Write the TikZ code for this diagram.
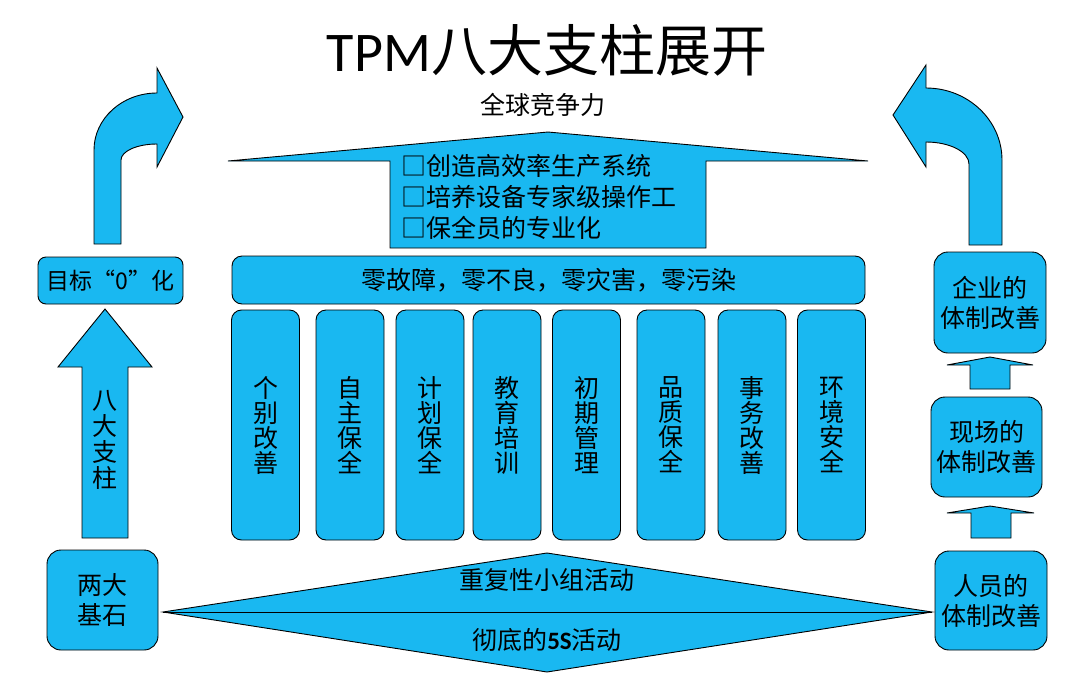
\documentclass[tikz,border=0pt]{standalone}
\usepackage{fontspec}
\setmainfont{Noto Sans CJK SC}
\newfontfamily\latinfont{Carlito}
\definecolor{tpmblue}{RGB}{25,184,241}

\begin{document}
\begin{tikzpicture}[x=1pt, y=-1pt, line width=0.9pt,
    blk/.style={fill=tpmblue, draw=black},
    rbox/.style={blk, rounded corners=14pt, inner sep=0pt, align=center,
        font=\fontsize{25}{30}\selectfont},
    pillar/.style={rbox, rounded corners=10pt, minimum width=68pt, minimum height=230pt,
        font=\fontsize{25}{25}\selectfont},
    lbl/.style={inner sep=0pt, align=center, font=\fontsize{25}{30}\selectfont}]
    \useasboundingbox (0,0) rectangle (1072,689);

    % 标题
    \node[inner sep=0pt, font=\fontsize{56}{56}\selectfont] (title) at (547,50) {{\latinfont TPM}八大支柱展开};
    \node[lbl] (world) at (543,105) {全球竞争力};

    % 顶部宽箭头
    \draw[blk] (228,161) -- (548,132) -- (868,161) -- (706,161) -- (706,248)
        -- (390,248) -- (390,161) -- cycle;
    \node[lbl, align=left, anchor=west, font=\fontsize{25}{31}\selectfont] (goals) at (401,197)
        {□创造高效率生产系统\\□培养设备专家级操作工\\□保全员的专业化};

    % 零故障横梁
    \node[rbox, rounded corners=10pt, minimum width=633pt, minimum height=48pt] (zero) at (548.5,280)
        {零故障，零不良，零灾害，零污染};

    % 八根支柱
    \foreach \cx/\txt [count=\i] in {265.5/{个\\别\\改\\善}, 350/{自\\主\\保\\全},
        430/{计\\划\\保\\全}, 507/{教\\育\\培\\训}, 586.5/{初\\期\\管\\理},
        671/{品\\质\\保\\全}, 752/{事\\务\\改\\善}, 831.5/{环\\境\\安\\全}}
        \node[pillar] (p\i) at (\cx,425) {\txt};

    % 底部菱形
    \draw[blk] (163,612) -- (547,553) -- (932,612) -- (547,672) -- cycle;
    \draw (163,612) -- (932,612);
    \node[lbl] (group) at (547,580) {重复性小组活动};
    \node[lbl] (fives) at (547,640) {彻底的{\latinfont\bfseries 5S}活动};

    % 左侧
    \draw[blk] (94,244) -- (94,150) .. controls (94,118.5) and (122.2,93) .. (157,93)
        -- (157,68) -- (183,117) -- (157,167) -- (157,144)
        .. controls (137.1,144) and (121,151.2) .. (121,160) -- (121,244) -- cycle;
    \node[rbox, rounded corners=8pt, minimum width=145pt, minimum height=47pt,
        font=\fontsize{23}{23}\selectfont] (goal0) at (110.5,280.5) {目标“0”化};
    \draw[blk] (82,538) -- (82,367) -- (58,367) -- (105,309) -- (152,367)
        -- (128,367) -- (128,538) -- cycle;
    \node[lbl, font=\fontsize{25}{26}\selectfont] (pillars) at (105,440) {八\\大\\支\\柱};
    \node[rbox, minimum width=111pt, minimum height=100pt] (base) at (102.5,600) {两大\\基石};

    % 右侧
    \draw[blk] (1002,245) -- (1002,160) .. controls (1002,120.3) and (968,88) .. (926,88)
        -- (926,65) -- (893,115) -- (926,167) -- (926,142)
        .. controls (949.7,142) and (969,151.9) .. (969,164) -- (969,245) -- cycle;
    \node[rbox, minimum width=112pt, minimum height=101pt] (corp) at (990,302.5) {企业的\\体制改善};
    \draw[blk] (970,389) -- (970,365) -- (947,365) -- (990,357) -- (1033,365)
        -- (1010,365) -- (1010,389) -- cycle;
    \node[rbox, minimum width=111pt, minimum height=100pt] (site) at (986.5,447) {现场的\\体制改善};
    \draw[blk] (971,538) -- (971,513) -- (947,513) -- (990,506) -- (1034,513)
        -- (1011,513) -- (1011,538) -- cycle;
    \node[rbox, minimum width=112pt, minimum height=99pt] (people) at (991,600.5) {人员的\\体制改善};
\end{tikzpicture}
\end{document}
